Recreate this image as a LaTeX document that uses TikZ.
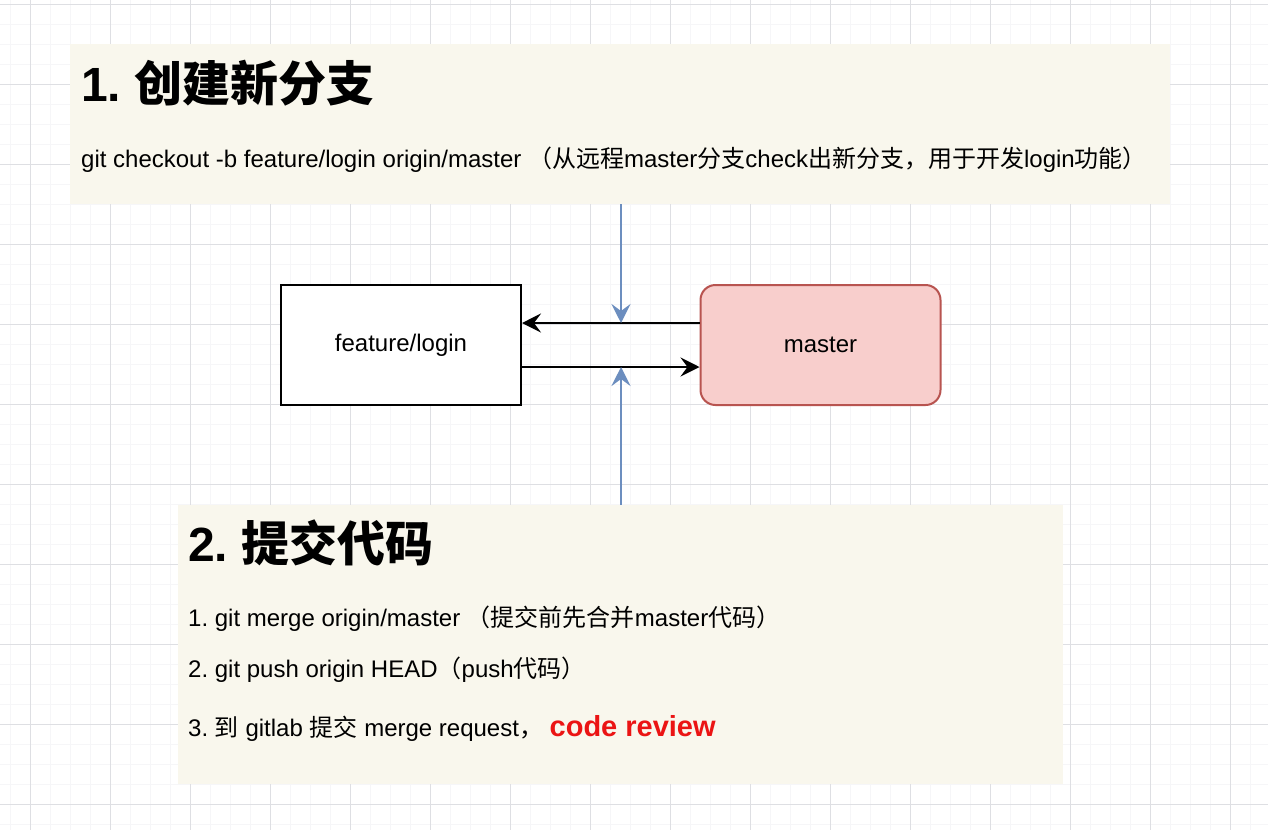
\documentclass[tikz,border=0pt]{standalone}
\usepackage{fontspec}
\setmainfont{Liberation Sans}
\newfontfamily\zhfont{Noto Sans CJK SC}
\newcommand\zh[1]{{\zhfont #1}}
\frenchspacing
\usetikzlibrary{arrows.meta}
\definecolor{paper}{HTML}{F9F7ED}
\definecolor{gridmajor}{HTML}{DEDFE3}
\definecolor{gridminor}{HTML}{F6F6F8}
\definecolor{rose}{HTML}{F8CECC}
\definecolor{roseline}{HTML}{B85450}
\definecolor{steel}{HTML}{6C8EBF}
\definecolor{alert}{RGB}{235,20,20}
\tikzset{
  >={Stealth[length=19pt,width=19pt,inset=7pt]},
  panel/.style={fill=paper,inner sep=0pt},
  heading/.style={anchor=base west,inner sep=0pt,font=\fontsize{48pt}{56pt}\selectfont\bfseries},
  line/.style={anchor=base west,inner sep=0pt,font=\fontsize{24pt}{28pt}\selectfont},
  branch/.style={draw=#1,line width=2pt,minimum width=240pt,minimum height=120pt,
    inner sep=0pt,font=\fontsize{24pt}{28pt}\selectfont},
  branch/.default=black,
  flow/.style={->,line width=2pt,draw=#1},
  flow/.default=black,
}

\begin{document}
\begin{tikzpicture}[x=1pt,y=-1pt]
  \useasboundingbox (0,0) rectangle (1268,830);
  \fill[white] (0,0) rectangle (1268,830);
  % background grid
  \foreach \x in {10,30,...,1270} \draw[gridminor,line width=1pt] (\x,0) -- (\x,830);
  \foreach \y in {4,24,...,824} \draw[gridminor,line width=1pt] (0,\y) -- (1268,\y);
  \foreach \x in {30,110,...,1230} \draw[gridmajor,line width=1pt] (\x,0) -- (\x,830);
  \foreach \y in {4,84,...,804} \draw[gridmajor,line width=1pt] (0,\y) -- (1268,\y);

  % step 1
  \node[panel,minimum width=1100pt,minimum height=160pt] (stepA) at (620,124) {};
  \node[heading] (headA) at (81,101) {1. \zh{创建新分支}};
  \node[line] (cmdA) at (81,167) {git checkout -b feature/login origin/master \zh{（从远程}master\zh{分支}check\zh{出新分支，用于开发}login\zh{功能）}};

  % step 2
  \node[panel,minimum width=885pt,minimum height=279pt] (stepB) at (620.5,644.5) {};
  \node[heading] (headB) at (188,561) {2. \zh{提交代码}};
  \node[line] (cmdB1) at (188,626) {1. git merge origin/master \zh{（提交前先合并}master\zh{代码）}};
  \node[line] (cmdB2) at (188,677) {2. git push origin HEAD\zh{（}push\zh{代码）}};
  \node[line] (cmdB3) at (188,736) {3. \zh{到} gitlab \zh{提交} merge request\zh{，} {\color{alert}\fontsize{29pt}{32pt}\selectfont\bfseries code review}};

  % branches
  \node[branch,fill=white] (feat) at (401,345) {\raisebox{-2pt}{feature/login}};
  \node[branch=roseline,fill=rose,rounded corners=15pt] (mstr) at (820.5,345) {\raisebox{-2pt}{master}};
  \draw[flow] ([yshift=22pt]mstr.west) -- ([yshift=22pt]feat.east);
  \draw[flow] ([yshift=-22pt]feat.east) -- ([yshift=-22pt]mstr.west);

  \coordinate (hitA) at (621,323);
  \coordinate (hitB) at (621,367);
  \draw[flow=steel] (stepA.south -| hitA) -- (hitA);
  \draw[flow=steel] (stepB.north -| hitB) -- (hitB);
\end{tikzpicture}
\end{document}
